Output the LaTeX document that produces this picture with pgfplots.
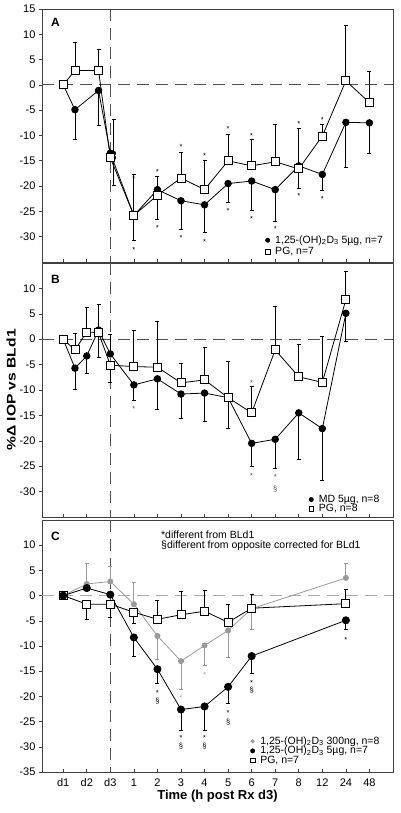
\documentclass[border=0pt]{standalone}
\usepackage{pgfplots}
\pgfplotsset{compat=1.18}
\usepackage{fontspec}
\setmainfont{Liberation Sans}
\definecolor{axgray}{HTML}{404040}
\definecolor{lgray}{HTML}{9A9A9A}
\definecolor{dgray}{HTML}{505050}
\definecolor{cgray}{HTML}{AAAAAA}
\newcommand{\tl}{\fontsize{11}{12}\selectfont}
\newcommand{\lf}{\fontsize{10.5}{11.5}\selectfont}
\newcommand{\sm}{\fontsize{7.5}{8}\selectfont}
\newcommand{\vd}{1,25-(OH)\textsubscript{2}D\textsubscript{3}}
\tikzset{plab/.style={font=\bfseries\fontsize{12}{12}\selectfont}}

\pgfplotsset{
  panel/.style={
    scale only axis, width=351pt,
    xmin=-0.9, xmax=14, ymin=-35, ymax=15,
    axis line style={axgray, line width=0.9pt},
    xtick={0,...,13}, xticklabels={},
    xtick pos=bottom, ytick pos=left,
    tick align=outside, major tick length=3pt,
    tick style={axgray, line width=0.6pt},
    xtick style={yshift=3pt},
    /pgf/number format/assume math mode=true,
    tick label style={font=\tl},
    legend cell align=left,
    legend style={draw=none, fill=none, font=\lf, anchor=south east, inner sep=0pt, row sep=0pt, nodes={inner sep=0pt, text height=7.6pt, text depth=2pt}},
    legend image code/.code={\path (0,0) (0.34cm,0); \draw[##1] plot coordinates {(0.08cm,0cm)};},
  },
  sq/.style={black, line width=0.8pt, mark=square*, mark size=4pt, mark options={fill=white, draw=black, line width=0.8pt}},
  ci/.style={black, line width=0.8pt, mark=*, mark size=3.3pt, mark options={fill=black, draw=black}},
  gr/.style={lgray, line width=0.8pt, mark=*, mark size=2.6pt, mark options={fill=lgray, draw=lgray}},
  ebu/.style={forget plot, only marks, mark=none, error bars/y dir=plus, error bars/y explicit, error bars/error bar style={line width=0.8pt}, error bars/error mark options={rotate=90, mark size=2pt, line width=0.8pt}},
  ebd/.style={forget plot, only marks, mark=none, error bars/y dir=minus, error bars/y explicit, error bars/error bar style={line width=0.8pt}, error bars/error mark options={rotate=90, mark size=2pt, line width=0.8pt}},
  ast/.style={forget plot, only marks, mark=text, text mark={\sm *}, text mark as node=true, text mark style={yshift=-1.6pt, inner sep=0pt}},
  sec/.style={forget plot, only marks, mark=text, text mark={\sm §}, text mark as node=true, text mark style={inner sep=0pt}},
  zl/.style={forget plot, line width=1pt, dash pattern=on 12pt off 7pt},
}

\begin{document}
\begin{tikzpicture}
\useasboundingbox (-42pt,9pt) rectangle (358pt,-804pt);

% ---------------- Panel A
\begin{axis}[panel, at={(0pt,0pt)}, anchor=north west, height=253pt,
  ytick={-30,-25,...,15},
  legend style={at={(axis description cs:0.972,0.02)}, row sep=2.1pt}]
\addplot[zl, dgray] coordinates {(-0.9,0) (14,0)};
\addplot[zl, dgray] coordinates {(2,15) (2,-35)};
% error bars
\addplot[black, ebu] coordinates {(0.5,2.85)+-(0,5.5) (1.5,2.85)+-(0,4.2) (2.15,-14.4)+-(0,7.6) (3,-25.8)+-(0,8.2) (5,-18.4)+-(0,5.1) (6,-20.7)+-(0,5.7) (7,-15.0)+-(0,5.3) (8,-16.0)+-(0,5.2) (9,-15.2)+-(0,7.4) (10,-16.6)+-(0,8.1) (11,-10.1)+-(0,2.3) (12,0.8)+-(0,11.0) (13,-3.5)+-(0,6.2)};
\addplot[black, ebd] coordinates {(4,-21.8)+-(0,4.8)};
\addplot[black, ebd] coordinates {(0.5,-4.9)+-(0,5.8) (1.5,-1.1)+-(0,6.9) (2.15,-13.5)+-(0,6.3) (3,-25.8)+-(0,4.9) (5,-22.9)+-(0,5.6) (6,-23.7)+-(0,5.5) (7,-19.5)+-(0,3.7) (8,-19.0)+-(0,5.9) (9,-20.7)+-(0,6.2) (10,-16.0)+-(0,4.4) (11,-17.7)+-(0,3.1) (12,-7.4)+-(0,9.0) (13,-7.5)+-(0,6.0)};
\addplot[black, ebu] coordinates {(4,-20.7)+-(0,2.7)};
% series
\addplot[ci, forget plot] coordinates {(0,0) (0.5,-4.9) (1.5,-1.1) (2,-13.5) (3,-25.8) (4,-20.7) (5,-22.9) (6,-23.7) (7,-19.5) (8,-19.0) (9,-20.7) (10,-16.0) (11,-17.7) (12,-7.4) (13,-7.5)};
\addplot[sq, forget plot] coordinates {(0,0) (0.5,2.85) (1.5,2.85) (2,-14.4) (3,-25.8) (4,-21.8) (5,-18.4) (6,-20.7) (7,-15.0) (8,-16.0) (9,-15.2) (10,-16.6) (11,-10.1) (12,0.8) (13,-3.5)};
% significance
\addplot[black, ast] coordinates {(3,-18.3) (4,-16.8) (5,-11.9) (6,-13.8) (7,-8.3) (8,-9.7) (10,-7.4) (11,-6.7) (3,-32.2) (4,-27.9) (5,-29.9) (6,-30.7) (7,-24.6) (8,-26.2) (9,-28.1) (10,-21.6) (11,-22.3)};
\node[plab] at (rel axis cs:0.0385,0.947) {A};
\addlegendimage{only marks, mark=*, mark size=2.2pt, black}
\addlegendentry{\vd\ 5µg, n=7}
\addlegendimage{only marks, mark=square, mark size=2.2pt, black, mark options={line width=0.6pt}}
\addlegendentry{PG, n=7}
\end{axis}

% ---------------- Panel B
\begin{axis}[panel, at={(0pt,-254pt)}, anchor=north west, height=254pt,
  ytick={-30,-25,...,10},
  ylabel={\scalebox{1.25}[1]{\%Δ IOP vs BLd1}},
  ylabel style={at={(axis description cs:-0.088,0.5)}, anchor=center, font=\bfseries\fontsize{12.5}{13}\selectfont},
  legend style={at={(axis description cs:0.962,0.0126)}, row sep=-0.3pt}]
\addplot[zl, dgray] coordinates {(-0.9,0) (14,0)};
\addplot[zl, dgray] coordinates {(2,15) (2,-35)};
\addplot[black, ebu] coordinates {(0.5,-2.1)+-(0,3.2) (1,1.4)+-(0,4.9) (1.5,1.3)+-(0,5.5) (3,-5.4)+-(0,7.1) (4,-5.5)+-(0,9.0) (5,-8.6)+-(0,3.9) (6,-8.0)+-(0,6.4) (7,-11.5)+-(0,7.2) (8,-14.5)+-(0,5.2) (9,-2.1)+-(0,8.6) (10,-7.4)+-(0,6.4) (11,-8.5)+-(0,9.1) (12,7.8)+-(0,5.5)};
\addplot[black, ebd] coordinates {(2,-5.1)+-(0,3.4)};
\addplot[black, ebd] coordinates {(0.5,-5.7)+-(0,4.2) (1,-3.3)+-(0,3.5) (1.5,1.8)+-(0,5.4) (3,-9.0)+-(0,3.0) (4,-7.8)+-(0,6.1) (5,-10.8)+-(0,4.8) (6,-10.6)+-(0,5.5) (7,-11.5)+-(0,6.1) (8,-20.5)+-(0,4.5) (9,-19.7)+-(0,5.8) (10,-14.5)+-(0,9.1) (11,-17.6)+-(0,10.2) (12,5.1)+-(0,5.6)};
\addplot[black, ebu] coordinates {(2,-2.9)+-(0,3.9)};
\addplot[ci, forget plot] coordinates {(0,0) (0.5,-5.7) (1,-3.3) (1.5,1.8) (2,-2.9) (3,-9.0) (4,-7.8) (5,-10.8) (6,-10.6) (7,-11.5) (8,-20.5) (9,-19.7) (10,-14.5) (11,-17.6) (12,5.1)};
\addplot[sq, forget plot] coordinates {(0,0) (0.5,-2.1) (1,1.4) (1.5,1.3) (2,-5.1) (3,-5.4) (4,-5.5) (5,-8.6) (6,-8.0) (7,-11.5) (8,-14.5) (9,-2.1) (10,-7.4) (11,-8.5) (12,7.8)};
\addplot[dgray, ast] coordinates {(3,-13.5) (8,-8.2) (8,-26.5) (9,-26.8)};
\addplot[dgray, sec] coordinates {(9,-29.5)};
\node[plab] at (rel axis cs:0.0385,0.935) {B};
\addlegendimage{only marks, mark=*, mark size=2.2pt, black}
\addlegendentry{MD 5µg, n=8}
\addlegendimage{only marks, mark=square, mark size=2.2pt, black, mark options={line width=0.6pt}}
\addlegendentry{PG, n=8}
\end{axis}

% ---------------- Panel C
\begin{axis}[panel, at={(0pt,-511pt)}, anchor=north west, height=252pt,
  ytick={-35,-30,...,10},
  xticklabels={d1,d2,d3,1,2,3,4,5,6,7,8,12,24,48},
  xlabel={Time (h post Rx d3)},
  xlabel style={at={(axis description cs:0.5,0)}, anchor=center, yshift=-24pt, font=\bfseries\fontsize{13}{14}\selectfont},
  legend style={at={(axis description cs:0.962,0.026)}, row sep=0pt}]
\addplot[zl, cgray] coordinates {(-0.9,0) (14,0)};
\addplot[zl, dgray] coordinates {(2,15) (2,-35)};
\addplot[lgray, ebu] coordinates {(1,2.3)+-(0,4.1) (2,2.8)+-(0,3.0) (3,-1.7)+-(0,4.3) (12,3.5)+-(0,2.9)};
\addplot[lgray, ebd] coordinates {(4,-8.0)+-(0,4.6) (5,-13.0)+-(0,5.6) (6,-9.9)+-(0,4.0) (7,-6.9)+-(0,5.4) (8,-2.6)+-(0,4.2)};
\addplot[black, ebd] coordinates {(1,-1.7)+-(0,3.0) (2,-1.7)+-(0,2.6) (3,-3.3)+-(0,2.3)};
\addplot[black, ebu] coordinates {(4,-4.7)+-(0,3.8) (5,-3.8)+-(0,4.6) (6,-3.1)+-(0,4.2) (7,-5.3)+-(0,3.6) (8,-2.5)+-(0,2.8) (12,-1.6)+-(0,2.9)};
\addplot[black, ebd] coordinates {(3,-8.3)+-(0,3.7) (4,-14.6)+-(0,2.9) (5,-22.6)+-(0,4.1) (6,-22.0)+-(0,4.7) (7,-18.1)+-(0,3.2) (8,-12.0)+-(0,3.4) (12,-4.9)+-(0,1.9)};
\addplot[gr, forget plot] coordinates {(0,0) (1,2.3) (2,2.8) (3,-1.7) (4,-8.0) (5,-13.0) (6,-9.9) (7,-6.9) (8,-2.6) (12,3.5)};
\addplot[sq, forget plot] coordinates {(0,0) (1,-1.7) (2,-1.7) (3,-3.3) (4,-4.7) (5,-3.8) (6,-3.1) (7,-5.3) (8,-2.5) (12,-1.6)};
\addplot[ci, mark size=3.6pt, forget plot] coordinates {(0,0) (1,1.5) (2,0.2) (3,-8.3) (4,-14.6) (5,-22.6) (6,-22.0) (7,-18.1) (8,-12.0) (12,-4.9)};
\addplot[black, ast] coordinates {(4,-19.0) (5,-28.0) (6,-28.0) (7,-23.0) (8,-17.0) (12,-8.4)};
\addplot[black, sec] coordinates {(4,-21.0) (5,-29.9) (6,-29.9) (7,-25.0) (8,-18.8)};
\addplot[lgray, ast] coordinates {(5,-20.0) (6,-15.4)};
\node[plab] at (rel axis cs:0.0385,0.937) {C};
\node[anchor=west, font=\lf, inner sep=0pt] at (axis cs:4.15,12.0) {*different from BLd1};
\node[anchor=west, font=\lf, inner sep=0pt] at (axis cs:4.15,9.8) {§different from opposite corrected for BLd1};
\addlegendimage{only marks, mark=*, mark size=1.8pt, lgray}
\addlegendentry{\vd\ 300ng, n=8}
\addlegendimage{only marks, mark=*, mark size=2.2pt, black}
\addlegendentry{\vd\ 5µg, n=7}
\addlegendimage{only marks, mark=square, mark size=2.2pt, black, mark options={line width=0.6pt}}
\addlegendentry{PG, n=7}
\end{axis}
\end{tikzpicture}
\end{document}
